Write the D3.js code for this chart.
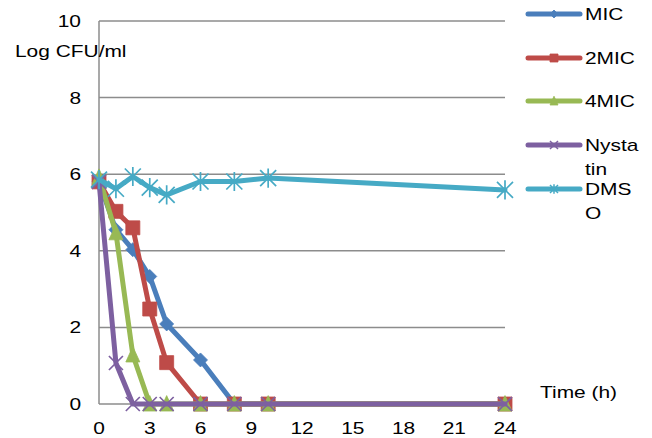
<!DOCTYPE html>
<html>
<head>
<meta charset="utf-8">
<script src="https://cdn.jsdelivr.net/npm/d3@7"></script>
<style>
  body { margin: 0; background: #fff; }
  svg { font-family: "Liberation Sans", Arial, sans-serif; }
</style>
</head>
<body>
<svg id="chart" width="652" height="438"></svg>
<script>
// Datos
const hours = [0, 1, 2, 3, 4, 6, 8, 10, 24];
const mic = [5.8, 4.55, 4.03, 3.33, 2.09, 1.15, 0, 0, 0];
const mic2 = [5.8, 5.03, 4.6, 2.48, 1.08, 0, 0, 0, 0];
const mic4 = [5.92, 4.47, 1.28, 0, 0, 0, 0, 0, 0];
const nystatin = [5.8, 1.07, 0, 0, 0, 0, 0, 0, 0];
const dmso = [5.86, 5.62, 5.94, 5.65, 5.46, 5.81, 5.81, 5.9, 5.59];
const xTicks = [0, 3, 6, 9, 12, 15, 18, 21, 24];
const yTicks = [0, 2, 4, 6, 8, 10];

const series = [
  { name: 'MIC', label: ['MIC'], values: mic, color: '#4a7ebb', marker: 'diamond' },
  { name: '2MIC', label: ['2MIC'], values: mic2, color: '#be4b48', marker: 'square' },
  { name: '4MIC', label: ['4MIC'], values: mic4, color: '#98b954', marker: 'triangle' },
  { name: 'Nystatin', label: ['Nysta', 'tin'], values: nystatin, color: '#7d60a0', marker: 'x' },
  { name: 'DMSO', label: ['DMS', 'O'], values: dmso, color: '#46aac5', marker: 'star' }
];

const svg = d3.select('#chart');
const x = d3.scaleLinear().domain([0, 24]).range([99, 505]);
const y = d3.scaleLinear().domain([0, 10]).range([404, 21]);
const SX = 1.23; // el texto del original está estirado en horizontal

function label(sel, px, py, txt, anchor) {
  return sel.append('text')
    .attr('transform', `translate(${px},${py}) scale(${SX},1)`)
    .attr('text-anchor', anchor || 'start')
    .attr('font-size', 17)
    .text(txt);
}

// Rejilla
svg.append('g').selectAll('line')
  .data(yTicks.filter(d => d > 0))
  .enter().append('line')
  .attr('x1', x(0)).attr('x2', x(24))
  .attr('y1', d => y(d)).attr('y2', d => y(d))
  .attr('stroke', '#8c8c8c').attr('stroke-width', 1.5);

// Ejes
svg.append('line')
  .attr('x1', x(0)).attr('x2', x(0)).attr('y1', y(10)).attr('y2', y(0))
  .attr('stroke', '#8c8c8c').attr('stroke-width', 1.5);
svg.append('line')
  .attr('x1', x(0)).attr('x2', x(24)).attr('y1', y(0)).attr('y2', y(0))
  .attr('stroke', '#8c8c8c').attr('stroke-width', 1.5);

yTicks.forEach(d => label(svg, 81, y(d) + 6, d, 'end'));
xTicks.forEach(d => label(svg, x(d), 434, d, 'middle'));

label(svg, 15, 57, 'Log CFU/ml');
label(svg, 540, 398, 'Time (h)');

// Marcadores
function markerPath(type, s) {
  const h = s / 2;
  switch (type) {
    case 'diamond': return `M0,${-h}L${h},0L0,${h}L${-h},0Z`;
    case 'square': return `M${-h},${-h}H${h}V${h}H${-h}Z`;
    case 'triangle': return `M0,${-h * 1.2}L${h},${h}L${-h},${h}Z`;
    case 'x': return `M${-h},${-h}L${h},${h}M${h},${-h}L${-h},${h}`;
    case 'star': return `M${-h},${-h}L${h},${h}M${h},${-h}L${-h},${h}M0,${-h * 1.2}V${h * 1.2}`;
  }
}
function isStroke(type) { return type === 'x' || type === 'star'; }

const line = d3.line().x(d => x(d[0])).y(d => y(d[1]));

series.forEach(s => {
  const pts = hours.map((h, i) => [h, s.values[i]]);
  const g = svg.append('g');
  g.append('path').datum(pts).attr('d', line)
    .attr('fill', 'none').attr('stroke', s.color).attr('stroke-width', 5)
    .attr('stroke-linejoin', 'round').attr('stroke-linecap', 'round');
  const size = s.marker === 'star' ? 16 : 14;
  g.selectAll('path.m').data(pts).enter().append('path')
    .attr('class', 'm')
    .attr('transform', d => `translate(${x(d[0])},${y(d[1])})`)
    .attr('d', markerPath(s.marker, size))
    .attr('fill', isStroke(s.marker) ? 'none' : s.color)
    .attr('stroke', s.color)
    .attr('stroke-width', isStroke(s.marker) ? 1.7 : 0.8);
});

// Leyenda
const legY = [14, 58, 101, 145, 189];
series.forEach((s, i) => {
  const g = svg.append('g').attr('transform', `translate(0,${legY[i]})`);
  g.append('line').attr('x1', 528).attr('x2', 580).attr('y1', 0).attr('y2', 0)
    .attr('stroke', s.color).attr('stroke-width', 5).attr('stroke-linecap', 'round');
  g.append('path').attr('transform', 'translate(554,0)')
    .attr('d', markerPath(s.marker, 8))
    .attr('fill', isStroke(s.marker) ? 'none' : s.color)
    .attr('stroke', s.color).attr('stroke-width', isStroke(s.marker) ? 1.5 : 0.8);
  s.label.forEach((t, j) => label(g, 585, 6 + j * 24, t));
});
</script>
</body>
</html>
